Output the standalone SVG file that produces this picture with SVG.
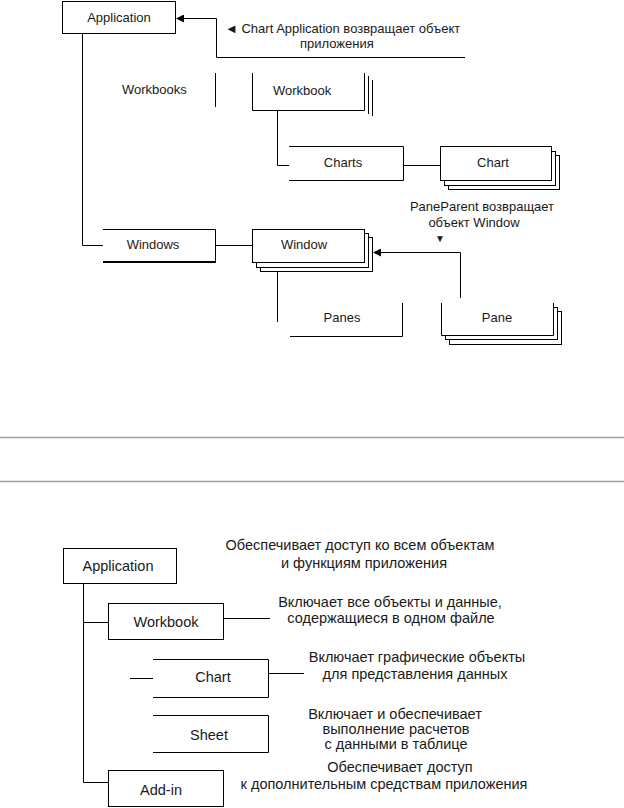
<svg xmlns="http://www.w3.org/2000/svg" width="624" height="808" viewBox="0 0 624 808">
<style>
.b{fill:#fff;stroke:#000;stroke-width:1}
.e{fill:none;stroke:#000;stroke-width:1}
.c{fill:none;stroke:#000;stroke-width:1}
.t{font-family:"Liberation Sans",Arial,"Noto Sans",sans-serif;font-size:13px;fill:#1a1a1a}
.u{font-family:"Liberation Sans",Arial,"Noto Sans",sans-serif;font-size:14.5px;fill:#1a1a1a}
.m{text-anchor:middle}
.sep{stroke:#a5a590;stroke-width:1.6}
</style>
<defs>
<marker id="ah" markerWidth="8" markerHeight="8" refX="7" refY="4" orient="auto" markerUnits="userSpaceOnUse">
<path d="M0,0 L8,4 L0,8 Z" fill="#000"/>
</marker>
</defs>
<rect width="624" height="808" fill="#fff"/>

<!-- connectors -->
<g id="connectors">
<path class="c" d="M82.5,33.5 V245.5 H103"/>
<path class="c" d="M465,57.5 H216.5 V18.5 H177" marker-end="url(#ah)"/>
<path class="c" d="M277.5,110 V165.5 H289"/>
<path class="c" d="M403,165.5 H440"/>
<path class="c" d="M215,245.5 H252"/>
<path class="c" d="M277.5,262 V322"/>
<path class="c" d="M460.5,298 V252.5 H374" marker-end="url(#ah)"/>
<path class="c" d="M83.5,583 V782.5 H108"/>
<path class="c" d="M83.5,622.5 H108"/>
<path class="c" d="M223,618.5 H270"/>
<path class="c" d="M130,678.5 H153"/>
<path class="c" d="M268,673.5 H304"/>
</g>

<!-- top diagram nodes -->
<g id="app1">
<rect class="b" x="62.5" y="1.5" width="113" height="32"/>
<text class="t m" x="119" y="22">Application</text>
</g>
<g id="note1">
<text class="t" x="225" y="33">◄ Chart Application возвращает объект</text>
<text class="t" x="300" y="48">приложения</text>
</g>
<g id="workbooks1">
<path class="e" d="M215.5,73 V107"/>
<text class="t" x="122" y="94">Workbooks</text>
</g>
<g id="workbook1">
<path class="e" d="M372.5,80 V116"/>
<path class="e" d="M368.5,76 V114"/>
<path class="e" d="M252.5,73 V110.5 H364.5 V73"/>
<text class="t" x="273" y="95">Workbook</text>
</g>
<g id="charts1">
<path class="e" d="M289,146.5 H403.5 V180.5 H289"/>
<text class="t m" x="343" y="167">Charts</text>
</g>
<g id="chart1">
<rect class="b" x="448.5" y="155.5" width="111" height="34"/>
<rect class="b" x="444.5" y="151.5" width="111" height="34"/>
<rect class="b" x="440.5" y="146.5" width="111" height="34"/>
<text class="t m" x="493" y="167">Chart</text>
</g>
<g id="windows1">
<path class="e" d="M103,229.5 H215.5 V262"/>
<path fill="none" stroke="#000" stroke-width="2" d="M103,262 H216"/>
<text class="t m" x="153" y="249">Windows</text>
</g>
<g id="window1">
<rect class="b" x="260.5" y="237.5" width="112" height="34"/>
<rect class="b" x="256.5" y="233.5" width="112" height="34"/>
<rect class="b" x="252.5" y="229.5" width="112" height="33"/>
<text class="t m" x="304" y="249">Window</text>
</g>
<g id="note2">
<text class="t m" x="482" y="211">PaneParent возвращает</text>
<text class="t m" x="474" y="227">объект Window</text>
<text class="t m" x="440" y="242" style="font-size:10px">▼</text>
</g>
<g id="panes1">
<path class="e" d="M290,336.5 H402.5 V303"/>
<text class="t m" x="342" y="322">Panes</text>
</g>
<g id="pane1">
<rect class="b" x="449.5" y="311.5" width="112" height="33"/>
<rect class="b" x="445.5" y="307.5" width="112" height="32"/>
<rect x="441" y="303" width="112" height="32" fill="#fff"/>
<path class="e" d="M441.5,303 V335.5 H553.5 V303"/>
<text class="t m" x="497" y="322">Pane</text>
</g>

<!-- separators -->
<g id="separators">
<line class="sep" x1="0" y1="437.5" x2="624" y2="437.5"/>
<line class="sep" x1="0" y1="481.5" x2="624" y2="481.5"/>
</g>

<!-- bottom diagram nodes -->
<g id="app2">
<rect class="b" x="63.5" y="548.5" width="113" height="35"/>
<text class="u m" x="118" y="571">Application</text>
<text class="u m" x="360" y="550">Обеспечивает доступ ко всем объектам</text>
<text class="u m" x="364" y="568">и функциям приложения</text>
</g>
<g id="workbook2">
<rect class="b" x="108.5" y="603.5" width="115" height="36"/>
<text class="u m" x="166" y="627">Workbook</text>
<text class="u m" x="390" y="607">Включает все объекты и данные,</text>
<text class="u m" x="391" y="623">содержащиеся в одном файле</text>
</g>
<g id="chart2">
<path class="e" d="M153,659.5 H268.5 V697.5 H153"/>
<text class="u m" x="213" y="682">Chart</text>
<text class="u m" x="417" y="662">Включает графические объекты</text>
<text class="u m" x="415" y="679">для представления данных</text>
</g>
<g id="sheet2">
<path class="e" d="M153,715.5 H268.5 V752.5 H153"/>
<text class="u m" x="209" y="740">Sheet</text>
<text class="u m" x="395" y="719">Включает и обеспечивает</text>
<text class="u m" x="396" y="734">выполнение расчетов</text>
<text class="u m" x="396" y="749">с данными в таблице</text>
</g>
<g id="addin2">
<rect class="b" x="108.5" y="770.5" width="115" height="36"/>
<text class="u m" x="161" y="795">Add-in</text>
<text class="u m" x="400" y="772">Обеспечивает доступ</text>
<text class="u m" x="384" y="789">к дополнительным средствам приложения</text>
</g>
</svg>
